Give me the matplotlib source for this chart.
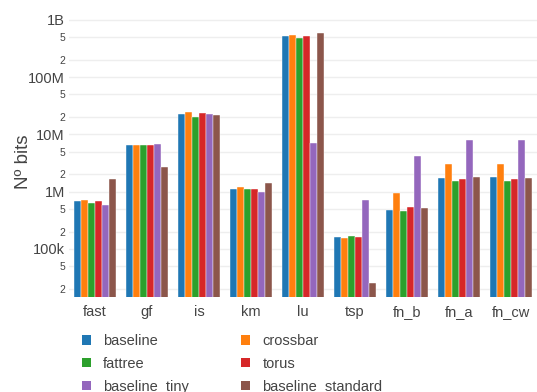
import matplotlib
matplotlib.use("Agg")
import matplotlib.pyplot as plt
from matplotlib.patches import Patch
import numpy as np

plt.rcParams['font.family'] = ['Liberation Sans', 'DejaVu Sans']

# 各基准程序
benchmarks = ["fast", "gf", "is", "km", "lu", "tsp", "fn_b", "fn_a", "fn_cw"]

# 各网络配置下的比特数
baseline = [687e3, 6.53e6, 22.7e6, 1.11e6, 515e6, 162e3, 485e3, 1.73e6, 1.78e6]
crossbar = [726e3, 6.53e6, 24.9e6, 1.19e6, 536e6, 156e3, 937e3, 3.08e6, 3.08e6]
fattree = [635e3, 6.53e6, 20.1e6, 1.11e6, 487e6, 166e3, 466e3, 1.52e6, 1.56e6]
torus = [687e3, 6.53e6, 23.6e6, 1.11e6, 515e6, 160e3, 534e3, 1.64e6, 1.64e6]
baseline_tiny = [593e3, 6.8e6, 22.4e6, 0.98e6, 7.0e6, 716e3, 4.25e6, 8.09e6, 8.09e6]
baseline_standard = [1.67e6, 2.67e6, 22.1e6, 1.4e6, 596e6, 25.5e3, 513e3, 1.78e6, 1.73e6]

series_names = ["baseline", "crossbar", "fattree", "torus", "baseline_tiny", "baseline_standard"]
series_values = [baseline, crossbar, fattree, torus, baseline_tiny, baseline_standard]
colors = ['#1f77b4', '#ff7f0e', '#2ca02c', '#d62728', '#9467bd', '#8c564b']

# 对数坐标刻度
tick_values = [2e4, 5e4, 1e5, 2e5, 5e5, 1e6, 2e6, 5e6, 1e7, 2e7, 5e7, 1e8, 2e8, 5e8, 1e9]
tick_labels = ["2", "5", "100k", "2", "5", "1M", "2", "5", "10M", "2", "5", "100M", "2", "5", "1B"]

fig = plt.figure(figsize=(5.37, 3.92), dpi=100)
ax = fig.add_axes([69 / 537, 1 - 297 / 392, 1 - 69 / 537, 287 / 392])

n = len(series_names)
x = np.arange(len(benchmarks))
width = 0.8 / n
for i in range(n):
    offs = (i - (n - 1) / 2) * width
    ax.bar(x + offs, series_values[i], width, color=colors[i],
           edgecolor='white', linewidth=0.3, label=series_names[i], zorder=2)

ax.set_yscale('log')
ax.set_ylim(10 ** 4.162, 10 ** 9.171)
ax.set_xlim(-0.5, len(benchmarks) - 0.5)

ax.set_yticks(tick_values)
ax.set_yticks([], minor=True)
ax.set_yticklabels(tick_labels)
for lab in ax.get_yticklabels():
    if lab.get_text() in ("2", "5"):
        lab.set_fontsize(7.5)
    else:
        lab.set_fontsize(10.5)
    lab.set_color('#444444')

ax.set_xticks(x)
ax.set_xticklabels(benchmarks, fontsize=10.5, color='#444444')
ax.tick_params(axis='both', length=0)
ax.tick_params(axis='y', pad=3)
ax.tick_params(axis='x', pad=6)

ax.grid(axis='y', color='#eeeeee', linewidth=1, zorder=0)
ax.set_axisbelow(True)
for s in ax.spines.values():
    s.set_visible(False)

ax.set_ylabel("Nº bits", fontsize=13.5, color='#444444')
ax.yaxis.set_label_coords(-0.08, 0.47)

# 图例，两列
order = [0, 2, 4, 1, 3, 5]
handles = [Patch(facecolor=colors[i], edgecolor='none') for i in order]
labels = [series_names[i] for i in order]
fig.legend(handles, labels, ncol=2, loc='upper left',
           bbox_to_anchor=(81.7 / 537, 1 - 334 / 392), frameon=False,
           fontsize=10.5, handlelength=0.62, handleheight=0.62,
           handletextpad=0.85, columnspacing=3.57, labelspacing=0.6,
           borderpad=0, borderaxespad=0, labelcolor='#444444')

plt.savefig("out.png", dpi=100)
